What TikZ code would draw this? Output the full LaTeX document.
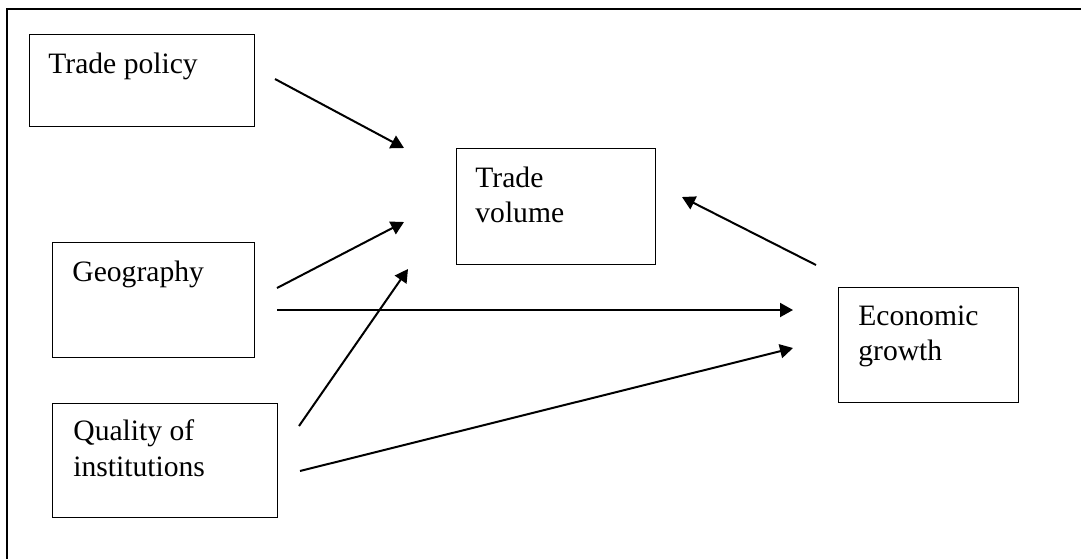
\documentclass[tikz,border=0pt]{standalone}
\usepackage{fontspec}
\setmainfont{Liberation Serif}
\usetikzlibrary{arrows.meta}
\begin{document}
\begin{tikzpicture}[x=0.5pt,y=-0.5pt,
  box/.style={draw=black, line width=0.55pt, rectangle, inner sep=0pt, anchor=north west},
  lbl/.style={anchor=base west, inner sep=0pt, font=\fontsize{14.8pt}{17.5pt}\selectfont},
  arr/.style={draw=black, line width=1pt, -{Triangle[length=6.5pt,width=7pt]}},
  frame/.style={draw=black, line width=0.9pt}]
\useasboundingbox (0,0) rectangle (1081,559);
\fill[white] (0,0) rectangle (1081,559);
% outer frame (only top and left visible)
\draw[frame] (1081,9) -- (7,9) -- (7,559);
% boxes
\node[box, minimum width=112.5pt, minimum height=46pt] (tp) at (29,34) {};
\node[box, minimum width=99.5pt, minimum height=58pt] (tv) at (456,148) {};
\node[box, minimum width=101pt, minimum height=57.5pt] (geo) at (52,242) {};
\node[box, minimum width=112.5pt, minimum height=57pt] (qi) at (52,403) {};
\node[box, minimum width=90pt, minimum height=57.5pt] (eg) at (838,287) {};
% labels
\node[lbl] (tpl) at (48,73) {Trade policy};
\node[lbl] (tvl1) at (475,187) {Trade};
\node[lbl] (tvl2) at (475,222) {volume};
\node[lbl] (geol) at (72,281) {Geography};
\node[lbl] (qil1) at (73,440) {Quality of};
\node[lbl] (qil2) at (73,476) {institutions};
\node[lbl] (egl1) at (858,325) {Economic};
\node[lbl] (egl2) at (858,360) {growth};
% connector end points
\coordinate (a1s) at (275,79);  \coordinate (a1e) at (404,148);
\coordinate (a2s) at (277,288); \coordinate (a2e) at (404,222);
\coordinate (a3s) at (277,310); \coordinate (a3e) at (793,310);
\coordinate (a4s) at (299,426); \coordinate (a4e) at (408,269);
\coordinate (a5s) at (300,471); \coordinate (a5e) at (793,348);
\coordinate (a6s) at (816,265); \coordinate (a6e) at (682,197);
% connectors
\draw[arr] (a1s) -- (a1e);
\draw[arr] (a2s) -- (a2e);
\draw[arr] (a3s) -- (a3e);
\draw[arr] (a4s) -- (a4e);
\draw[arr] (a5s) -- (a5e);
\draw[arr] (a6s) -- (a6e);
\end{tikzpicture}
\end{document}
